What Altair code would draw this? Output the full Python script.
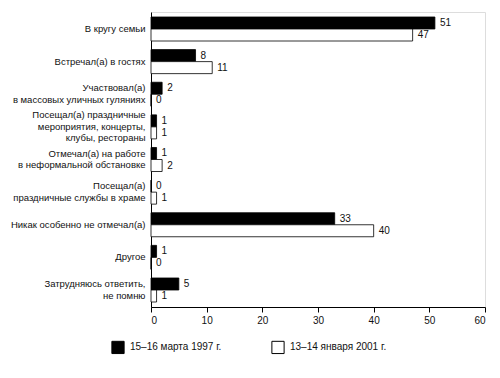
import altair as alt
import pandas as pd

categories = [
    "В кругу семьи",
    "Встречал(а) в гостях",
    "Участвовал(а)|в массовых уличных гуляниях",
    "Посещал(а) праздничные|мероприятия, концерты,|клубы, рестораны",
    "Отмечал(а) на работе|в неформальной обстановке",
    "Посещал(а)|праздничные службы в храме",
    "Никак особенно не отмечал(а)",
    "Другое",
    "Затрудняюсь ответить,|не помню",
]
series = ["15–16 марта 1997 г.", "13–14 января 2001 г."]
v1997 = [51, 8, 2, 1, 1, 0, 33, 1, 5]
v2001 = [47, 11, 0, 1, 2, 1, 40, 0, 1]
x_ticks = [0, 10, 20, 30, 40, 50, 60]

rows = []
for i, c in enumerate(categories):
    rows.append({"cat": c, "series": series[0], "order": 0, "value": v1997[i]})
    rows.append({"cat": c, "series": series[1], "order": 1, "value": v2001[i]})
df = pd.DataFrame(rows)

FONT = "Liberation Sans"
LH = 11.5

y_enc = alt.Y(
    "cat:N",
    sort=categories,
    scale=alt.Scale(paddingInner=0.264, paddingOuter=0.153),
    axis=alt.Axis(
        title=None,
        ticks=False,
        labelExpr="split(datum.label, '|')",
        labelFontSize=9.5,
        labelFont=FONT,
        labelColor="#111",
        labelPadding=6,
        labelLineHeight=LH,
        labelLimit=200,
        domainColor="#000",
        labelAlign="right",
        labelBaseline="middle",
        labelOffset={
            "condition": [
                {"test": "length(split(datum.label, '|')) == 3", "value": -LH},
                {"test": "length(split(datum.label, '|')) == 2", "value": -LH / 2},
            ],
            "value": 0,
        },
    ),
)
yoff = alt.YOffset("series:N", sort=series, scale=alt.Scale(paddingInner=0, paddingOuter=0))
x_enc = alt.X(
    "value:Q",
    scale=alt.Scale(domain=[0, 60], nice=False),
    axis=alt.Axis(
        title=None,
        values=x_ticks,
        grid=False,
        tickSize=5,
        tickColor="#000",
        domainColor="#000",
        labelFontSize=10,
        labelFont=FONT,
        labelColor="#111",
        labelPadding=3,
    ),
)

bars = alt.Chart(df).mark_bar(stroke="#000", strokeWidth=0.8).encode(
    y=y_enc,
    yOffset=yoff,
    x=x_enc,
    fill=alt.Fill(
        "series:N",
        sort=series,
        scale=alt.Scale(domain=series, range=["#000000", "#ffffff"]),
        legend=alt.Legend(
            title=None,
            orient="none",
            direction="horizontal",
            legendX=-40,
            legendY=328,
            padding=0,
            symbolType="square",
            symbolSize=150,
            symbolStrokeColor="#000",
            symbolStrokeWidth=1,
            labelFontSize=10,
            labelFont=FONT,
            labelColor="#111",
            labelOffset=5,
            columnPadding=47,
            labelLimit=200,
        ),
    ),
)

labels = alt.Chart(df).mark_text(
    align="left", baseline="middle", dx=5, fontSize=10, font=FONT, color="#111"
).encode(
    y=alt.Y("cat:N", sort=categories),
    yOffset=yoff,
    x=alt.X("value:Q"),
    text=alt.Text("value:Q"),
)

chart = (
    alt.layer(bars, labels)
    .properties(
        width=334,
        height=295,
        autosize=alt.AutoSizeParams(type="none"),
        padding={"left": 143, "top": 4, "right": 7, "bottom": 60},
    )
    .configure_view(stroke=None)
    .configure(background="#ffffff")
)

chart.save("out.html", embed_options={"renderer": "svg", "actions": False})
